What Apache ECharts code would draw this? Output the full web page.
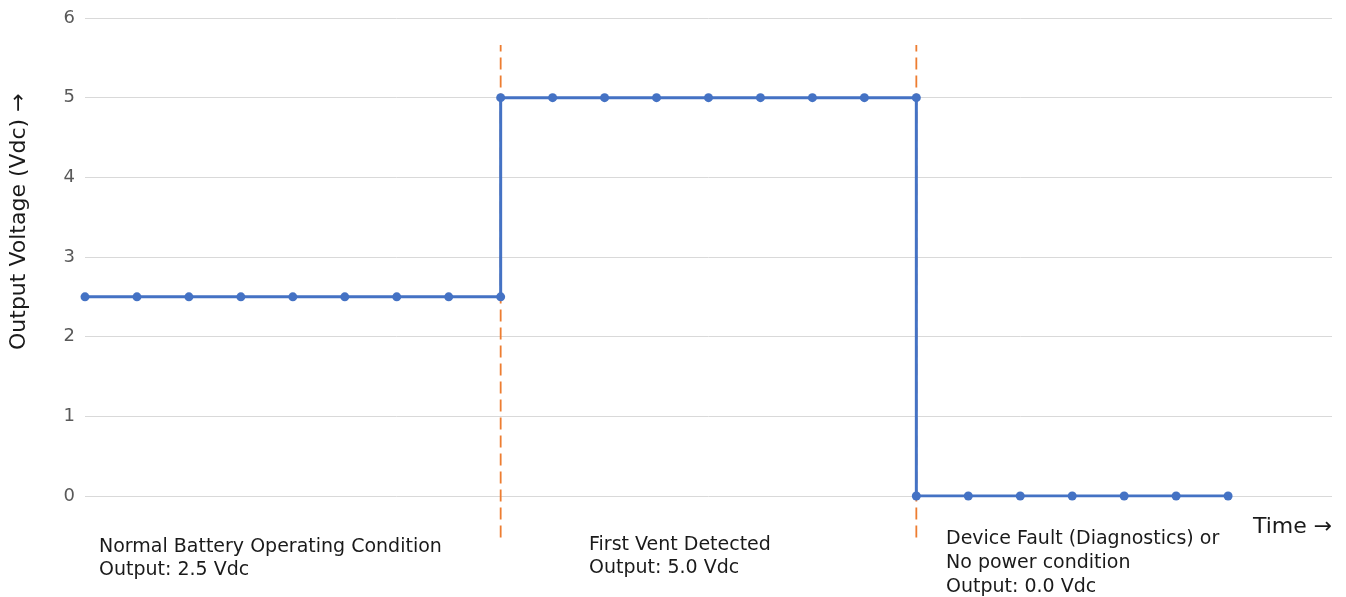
<!DOCTYPE html>
<html>
<head>
<meta charset="utf-8">
<script src="https://cdn.jsdelivr.net/npm/echarts@6/dist/echarts.min.js"></script>
<style>
html,body{margin:0;padding:0;background:#fff;}
#chart{width:1346px;height:597px;}
</style>
</head>
<body>
<div id="chart"></div>
<script>
// Time steps (arbitrary units) and output voltage
const normalTime = [0, 1, 2, 3, 4, 5, 6, 7, 8];
const normalVolt = [2.5, 2.5, 2.5, 2.5, 2.5, 2.5, 2.5, 2.5, 2.5];
const ventTime = [8, 9, 10, 11, 12, 13, 14, 15, 16];
const ventVolt = [5, 5, 5, 5, 5, 5, 5, 5, 5];
const faultTime = [16, 17, 18, 19, 20, 21, 22];
const faultVolt = [0, 0, 0, 0, 0, 0, 0];
const boundaryTimes = [8, 16];
const boundaryRange = [-0.52, 5.66];
const yTicks = [0, 1, 2, 3, 4, 5, 6];
const xMax = 24;

const stepData = [];
[[normalTime, normalVolt], [ventTime, ventVolt], [faultTime, faultVolt]].forEach(([t, v]) => {
  t.forEach((x, i) => stepData.push([x, v[i]]));
});

const FONT = '"DejaVu Sans", "Noto Sans", sans-serif';
const chart = echarts.init(document.getElementById('chart'));

const boundarySeries = boundaryTimes.map(t => ({
  type: 'line',
  data: [[t, boundaryRange[0]], [t, boundaryRange[1]]],
  symbol: 'none',
  clip: false,
  z: 1,
  lineStyle: { color: '#ED7D31', width: 1.8, type: [12, 6] },
  silent: true
}));

chart.setOption({
  animation: false,
  grid: { left: 85, right: 14, top: 18, bottom: 101 },
  xAxis: {
    type: 'value', min: 0, max: xMax,
    show: false
  },
  yAxis: {
    type: 'value', min: yTicks[0], max: yTicks[yTicks.length - 1], interval: 1,
    axisLine: { show: false },
    axisTick: { show: false },
    axisLabel: { color: '#595959', fontSize: 18, fontFamily: FONT, margin: 10 },
    splitLine: { lineStyle: { color: '#D9D9D9', width: 1 } }
  },
  series: [
    ...boundarySeries,
    {
      type: 'line',
      data: stepData,
      z: 3,
      symbol: 'circle',
      symbolSize: 9,
      itemStyle: { color: '#4472C4' },
      lineStyle: { color: '#4472C4', width: 3 }
    }
  ],
  graphic: [
    {
      type: 'text', left: 99, top: 536,
      style: { text: 'Normal Battery Operating Condition\nOutput: 2.5 Vdc', fill: '#1a1a1a', font: '19px ' + FONT, lineHeight: 23 }
    },
    {
      type: 'text', left: 589, top: 534,
      style: { text: 'First Vent Detected\nOutput: 5.0 Vdc', fill: '#1a1a1a', font: '19px ' + FONT, lineHeight: 23 }
    },
    {
      type: 'text', left: 946, top: 527,
      style: { text: 'Device Fault (Diagnostics) or\nNo power condition\nOutput: 0.0 Vdc', fill: '#1a1a1a', font: '19px ' + FONT, lineHeight: 24 }
    },
    {
      type: 'text', left: 1253, top: 514,
      style: { text: 'Time \u2192', fill: '#1a1a1a', font: '22px ' + FONT, lineHeight: 26 }
    },
    {
      type: 'text', x: 8, y: 350, rotation: Math.PI / 2,
      style: { text: 'Output Voltage (Vdc) \u2192', fill: '#1a1a1a', font: '22px ' + FONT, textVerticalAlign: 'top' }
    }
  ]
});
</script>
</body>
</html>
